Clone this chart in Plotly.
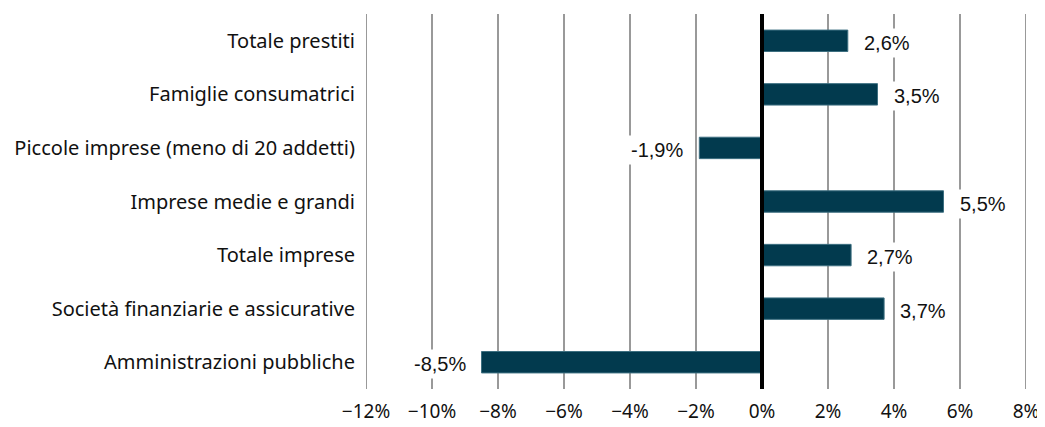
import plotly.graph_objects as go

categories = ["Totale prestiti", "Famiglie consumatrici", "Piccole imprese (meno di 20 addetti)",
              "Imprese medie e grandi", "Totale imprese", "Società finanziarie e assicurative",
              "Amministrazioni pubbliche"]
values = [2.6, 3.5, -1.9, 5.5, 2.7, 3.7, -8.5]
tick_vals = [-12, -10, -8, -6, -4, -2, 0, 2, 4, 6, 8]
tick_text = ["\u221212%", "\u221210%", "\u22128%", "\u22126%", "\u22124%", "\u22122%", "0%", "2%", "4%", "6%", "8%"]

bar_color = "#023a4e"

fig = go.Figure()

for t in tick_vals:
    if t != 0:
        fig.add_shape(type="line", x0=t, x1=t, y0=0, y1=1, yref="paper", xref="x",
                      line=dict(color="#999999", width=2), layer="below")

fig.add_trace(go.Bar(
    x=values, y=categories, orientation="h",
    marker=dict(color=bar_color, line=dict(color="#3d6f80", width=1)),
    width=0.4,
))

for c, v in zip(categories, values):
    label = f"{v:.1f}%".replace(".", ",")
    fig.add_annotation(
        x=v, y=c, text=label, showarrow=False,
        xanchor="left" if v >= 0 else "right",
        xshift=12 if v >= 0 else -12, yshift=-2,
        bgcolor="white", borderpad=3,
        font=dict(family="Liberation Sans", size=20, color="#111"),
    )

fig.add_shape(type="line", x0=0, x1=0, y0=0, y1=1, yref="paper", xref="x",
              line=dict(color="black", width=4))

fig.update_layout(
    width=1037, height=419,
    margin=dict(l=358, r=19, t=6, b=38),
    plot_bgcolor="white", paper_bgcolor="white",
    showlegend=False,
    font=dict(family="Noto Sans", size=20, color="#111"),
    xaxis=dict(range=[-12, 8], tickvals=tick_vals, ticktext=tick_text,
               showgrid=False, automargin=False,
               zeroline=False, showline=False, ticks="", ticklabelstandoff=9,
               tickfont=dict(family="Noto Sans", size=19, color="#111")),
    yaxis=dict(categoryorder="array", categoryarray=categories, autorange="reversed",
               showgrid=False, zeroline=False, showline=False, ticks="", automargin=False,
               ticklabelstandoff=10,
               tickfont=dict(family="Noto Sans", size=20, color="#111")),
)

fig.write_html("out.html")
